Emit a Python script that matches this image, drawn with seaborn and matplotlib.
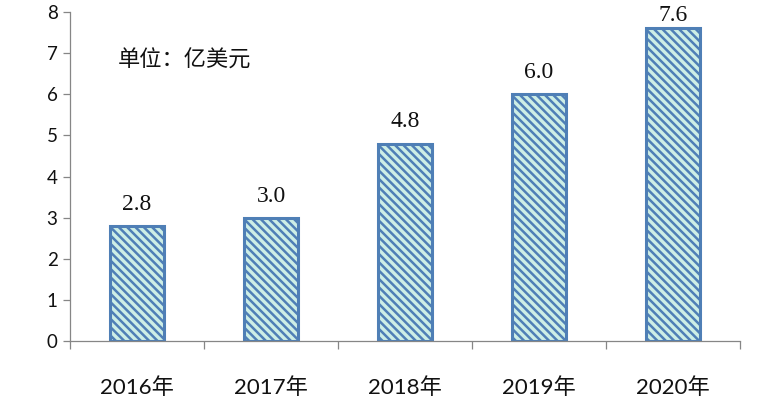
import matplotlib
matplotlib.use("Agg")
import matplotlib.pyplot as plt
import seaborn as sns
import pandas as pd
from matplotlib.ticker import FixedLocator

years = ["2016年", "2017年", "2018年", "2019年", "2020年"]
values = [2.8, 3.0, 4.8, 6.0, 7.6]
value_labels = ["2.8", "3.0", "4.8", "6.0", "7.6"]
yticks = [0, 1, 2, 3, 4, 5, 6, 7, 8]
unit_text = "单位：亿美元"

sns.set_style("white")
plt.rcParams['font.family'] = ['Lato', 'Noto Sans CJK SC', 'DejaVu Sans']
plt.rcParams['hatch.linewidth'] = 1.8

df = pd.DataFrame({"year": years, "value": values})

fig = plt.figure(figsize=(7.81, 4.09), dpi=100)
ax = fig.add_axes([70/781, 68/409, 670/781, 329/409])

stripe = '#4f7fb6'
fill = '#cdeee6'
sns.barplot(data=df, x="year", y="value", ax=ax, width=0.4,
            color=fill, saturation=1, edgecolor=stripe, linewidth=2.2)
for p in ax.patches:
    p.set_hatch('\\\\\\\\')
    p.set_facecolor(fill)
    p.set_edgecolor(stripe)

anns = ax.bar_label(ax.containers[0], labels=value_labels, padding=8,
                    fontsize=17, family=['Liberation Serif'], color='#111111')
anns[-1].xyann = (0, 2)

ax.set_xlim(-0.5, 4.5)
ax.set_ylim(0, 8)
ax.set_yticks(yticks)
ax.set_yticklabels([str(t) for t in yticks])
ax.set_xlabel("")
ax.set_ylabel("")

for s in ['top', 'right']:
    ax.spines[s].set_visible(False)
for s in ['left', 'bottom']:
    ax.spines[s].set_color('#868686')
    ax.spines[s].set_linewidth(0.9)

ax.tick_params(axis='y', which='major', length=5, width=0.9, color='#868686',
               labelsize=13.5, pad=4, left=True, labelcolor='#111111')
ax.tick_params(axis='x', which='major', length=0, labelsize=16, pad=26,
               labelcolor='#111111')
ax.xaxis.set_minor_locator(FixedLocator([-0.5, 0.5, 1.5, 2.5, 3.5, 4.5]))
ax.tick_params(axis='x', which='minor', length=6, width=0.9, color='#868686',
               bottom=True)

ax.text(0.072, 0.855, unit_text, transform=ax.transAxes, fontsize=16,
        family=['Noto Sans CJK SC'], va='center', ha='left', color='#111111')

fig.savefig("out.png", dpi=100)
